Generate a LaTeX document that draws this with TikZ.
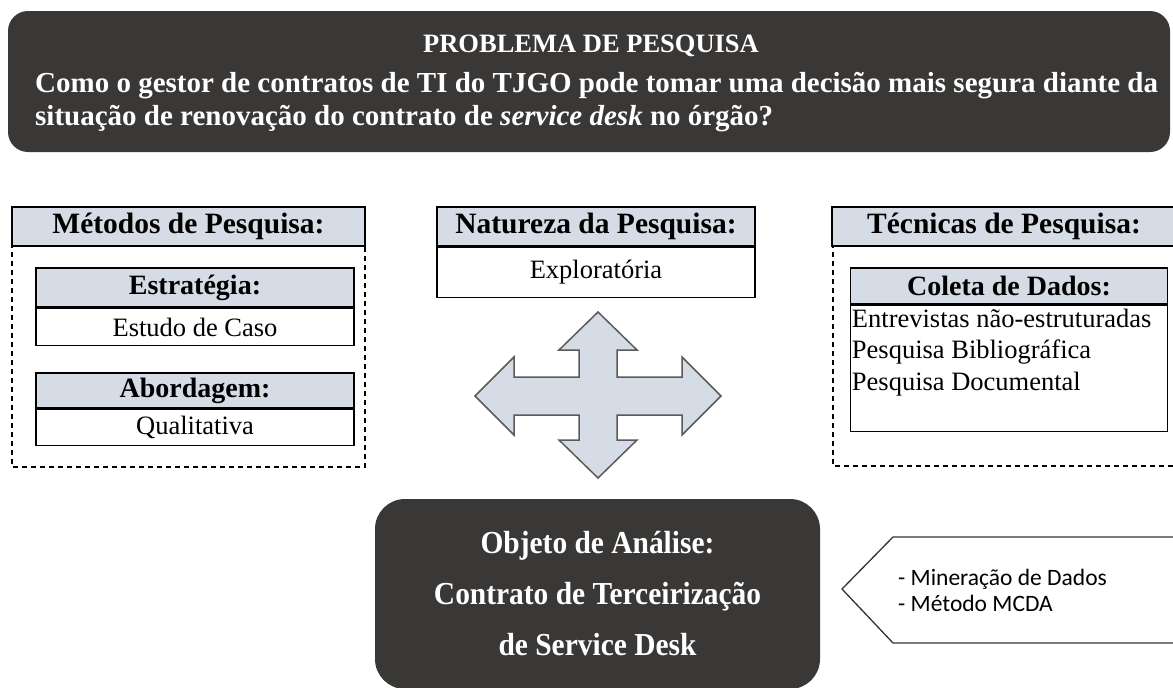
\documentclass[tikz,border=0pt]{standalone}
\usepackage{fontspec}
\setmainfont{Liberation Serif}
\newfontfamily\calfont{Carlito}
\newfontfamily\narrowserif[FakeStretch=0.92]{Liberation Serif}
\usetikzlibrary{positioning}
\definecolor{darkfill}{RGB}{58,56,54}
\definecolor{lightblue}{RGB}{214,220,229}
\definecolor{arrowline}{RGB}{90,90,90}

\tikzset{
	hdrbox/.style={draw, line width=1.5pt, fill=lightblue, inner sep=0pt, font=\bfseries\fontsize{29.5}{34}\selectfont},
	subhdrbox/.style={hdrbox, font=\bfseries\fontsize{28}{32}\selectfont},
	bodybox/.style={draw, line width=1.5pt, fill=white, inner sep=0pt, font=\fontsize{26.5}{31.5}\selectfont},
	darkbox/.style={fill=darkfill, text=white, inner sep=0pt},
	dashbox/.style={draw, line width=1.3pt, dash pattern=on 5pt off 4pt},
}

\begin{document}
\begin{tikzpicture}[x=1pt, y=-1pt]
		\clip (0,0) rectangle (1173,688);
		\fill [white] (0,0) rectangle (1173,688);
		% problema de pesquisa
		\node [darkbox, rounded corners=20pt, minimum width=1162, minimum height=141] (problema) at (589,81.5) {};
		\node [text=white, font=\bfseries\fontsize{26.5}{33}\selectfont] (titulo) at (591,46) {PROBLEMA DE PESQUISA};
		\node [text=white, font=\bfseries\fontsize{29}{33}\selectfont, align=left, anchor=north west, inner sep=0pt] (pergunta) at (35,72) {Como o gestor de contratos de TI do TJGO pode tomar uma decisão mais segura diante da\\situação de renovação do contrato de \textit{service desk} no órgão?};
		% metodos
		\draw [dashbox] (12,207) rectangle (365,467);
		\node [hdrbox, minimum width=353, minimum height=39] (metodos) at (188.5,226.5) {Métodos de Pesquisa:};
		\node [subhdrbox, minimum width=318, minimum height=39] (estrategia) at (195,287.5) {Estratégia:};
		\node [bodybox, minimum width=318, minimum height=37, below=0pt of estrategia] (estudo) {Estudo de Caso};
		\node [subhdrbox, minimum width=318, minimum height=35] (abordagem) at (195,390.5) {Abordagem:};
		\node [bodybox, minimum width=318, minimum height=36, below=0pt of abordagem] (qualitativa) {Qualitativa};
		% natureza
		\node [hdrbox, minimum width=318, minimum height=39] (natureza) at (596,226.5) {Natureza da Pesquisa:};
		\node [bodybox, minimum width=318, minimum height=50, below=0pt of natureza] (exploratoria) {Exploratória};
		% tecnicas
		\draw [dashbox] (833,207) rectangle (1185,466);
		\node [hdrbox, minimum width=344, minimum height=39] (tecnicas) at (1004,226.5) {Técnicas de Pesquisa:};
		\node [subhdrbox, minimum width=317, minimum height=36] (coleta) at (1009,286) {Coleta de Dados:};
		\node [bodybox, minimum width=317, minimum height=126, below=0pt of coleta] (coletaBody) {};
		\node [font=\fontsize{26.5}{31.5}\selectfont, align=left, anchor=north west, inner sep=0pt] (coletaTxt) at ([xshift=2pt, yshift=-4pt]coletaBody.north west) {Entrevistas não-estruturadas\\Pesquisa Bibliográfica\\Pesquisa Documental};
		% seta de quatro pontas
		\coordinate (cruz) at (598,396);
		\draw [fill=lightblue, draw=arrowline, line width=1.5pt, line join=miter, shift={(cruz)}]
			(0,-84) -- (39,-46) -- (19,-46) -- (19,-19) -- (84,-19) -- (84,-39) -- (123,0)
			-- (84,39) -- (84,19) -- (19,19) -- (19,44) -- (39,44) -- (0,82)
			-- (-39,44) -- (-19,44) -- (-19,19) -- (-84,19) -- (-84,39) -- (-123,0)
			-- (-84,-39) -- (-84,-19) -- (-19,-19) -- (-19,-46) -- (-39,-46) -- cycle;
		% objeto de analise
		\node [darkbox, rounded corners=30pt, minimum width=445, minimum height=190, align=center, font=\narrowserif\bfseries\fontsize{32}{51}\selectfont] (objeto) at (597.5,594) {Objeto de Análise:\\Contrato de Terceirização\\de Service Desk};
		% mcda
		\draw [line width=1.3pt, draw=black!80, fill=white] (842,589) -- (893,537) -- (1180,537) -- (1180,643) -- (893,643) -- cycle;
		\node [font=\calfont\fontsize{23.5}{26}\selectfont, align=left, anchor=west, inner sep=0pt] (mcda) at (898,590) {- Mineração de Dados\\- Método MCDA};
	\end{tikzpicture}
\end{document}
